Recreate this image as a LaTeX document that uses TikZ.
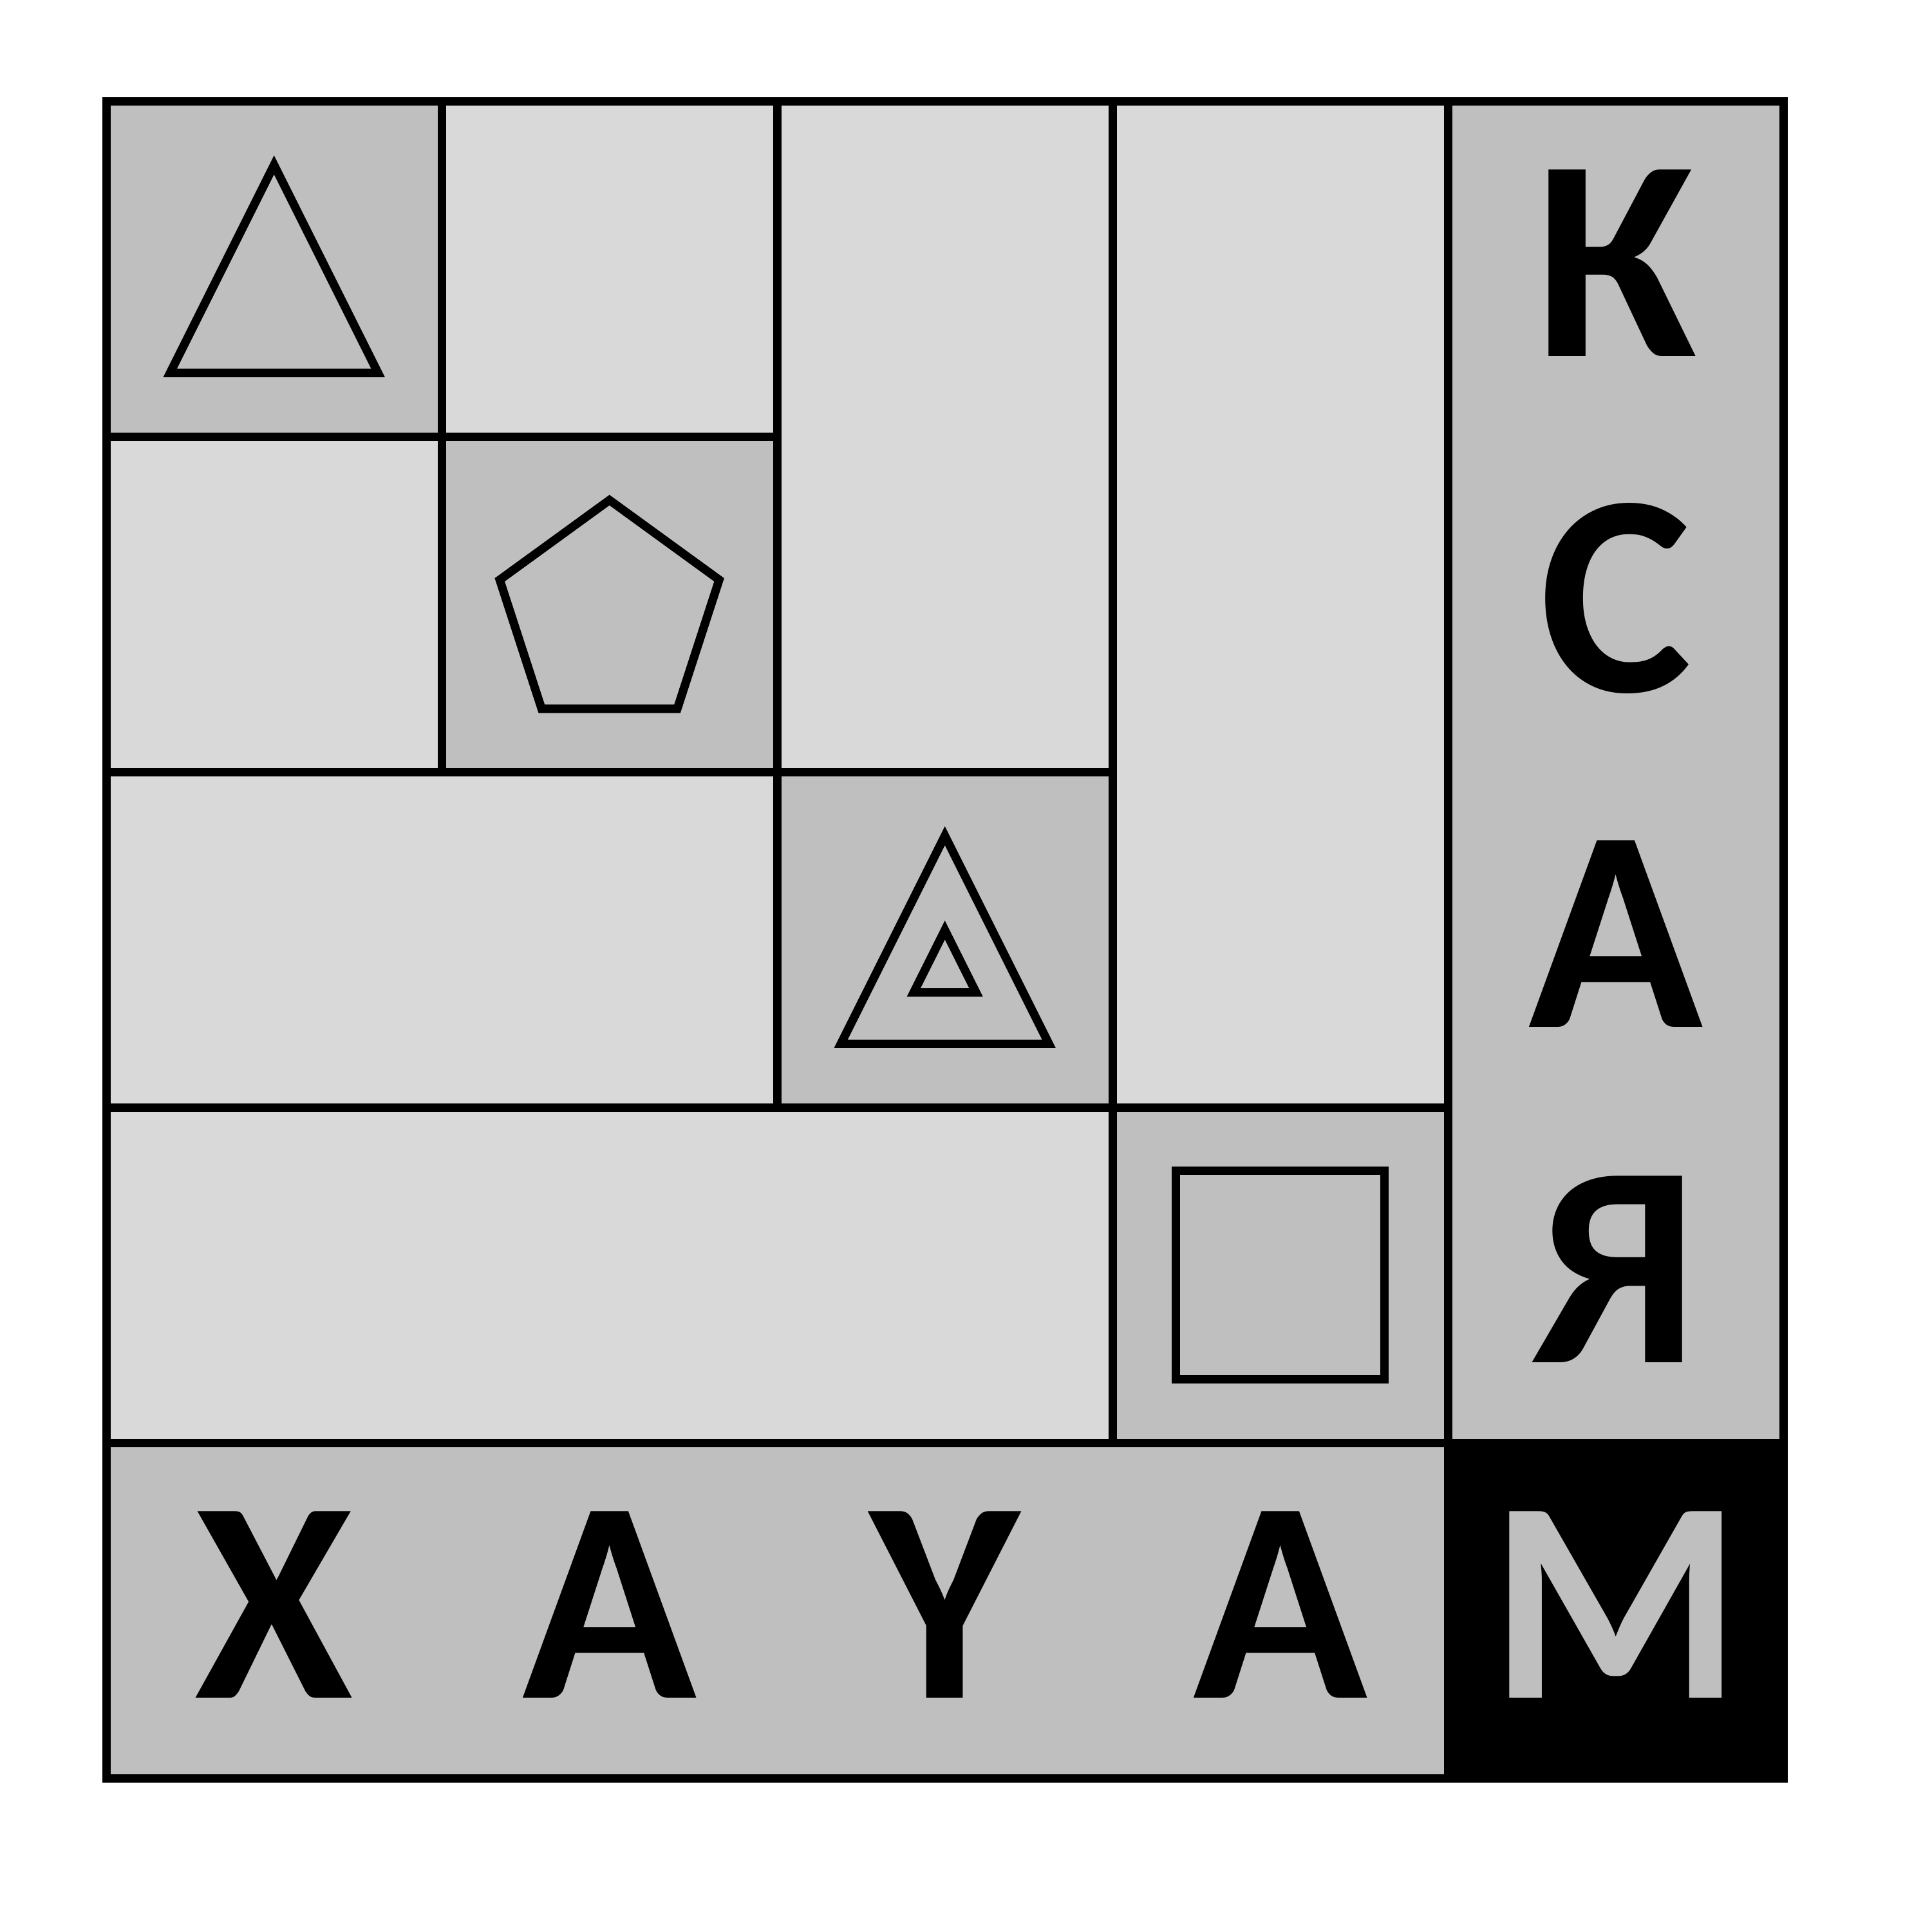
\documentclass[tikz,border=0pt]{standalone}
\usepackage{fontspec}
\setmainfont{Carlito}
\usepackage{xcolor}
\usepackage{tikz}
\usetikzlibrary{calc}
\definecolor{lightcell}{HTML}{D9D9D9}
\definecolor{darkcell}{HTML}{BFBFBF}

\begin{document}
\begin{tikzpicture}[
    x=2.5cm, y=2.5cm,
    line width=1.8pt,
    light/.style={fill=lightcell, draw=black},
    dark/.style={fill=darkcell, draw=black},
    figure/.style={draw=black, line width=1.8pt},
    letter/.style={anchor=base, inner sep=0pt, font=\fontsize{61}{68}\selectfont\bfseries}
]
\useasboundingbox (-0.317,-0.458) rectangle (5.443,5.302);

% Cells
\draw[dark] (0,4) rectangle (1,5);
\draw[light] (1,4) rectangle (2,5);
\draw[light] (2,3) rectangle (3,5);
\draw[light] (3,2) rectangle (4,5);
\draw[dark] (4,1) rectangle (5,5);
\draw[light] (0,3) rectangle (1,4);
\draw[dark] (1,3) rectangle (2,4);
\draw[light] (0,2) rectangle (2,3);
\draw[dark] (2,2) rectangle (3,3);
\draw[light] (0,1) rectangle (3,2);
\draw[dark] (3,1) rectangle (4,2);
\draw[dark] (0,0) rectangle (4,1);
\draw[fill=black] (4,0) rectangle (5,1);

% Figures on the diagonal
\draw[figure, shift={(0.5,4.5)}] (0,0.31) -- (-0.31,-0.31) -- (0.31,-0.31) -- cycle;
\draw[figure, shift={(1.5,3.467)}] (90:0.344) -- (162:0.344) -- (234:0.344) -- (306:0.344) -- (18:0.344) -- cycle;
\draw[figure, shift={(2.5,2.5)}] (0,0.31) -- (-0.31,-0.31) -- (0.31,-0.31) -- cycle;
\draw[figure, shift={(2.5,2.5)}] (0,0.029) -- (-0.093,-0.157) -- (0.093,-0.157) -- cycle;
\draw[figure] (3.189,1.189) rectangle (3.811,1.811);

% Right column
\node[letter] (k) at (4.5,4.24) {К};
\node[letter] (s) at (4.5,3.24) {С};
\node[letter] (a1) at (4.5,2.24) {А};
\node[letter] (ya) at (4.5,1.24) {Я};

% Bottom row
\node[letter] (kh) at (0.5,0.24) {Х};
\node[letter] (a2) at (1.5,0.24) {А};
\node[letter] (u) at (2.5,0.24) {Ү};
\node[letter] (a3) at (3.5,0.24) {А};
\node[letter, text=darkcell] (m) at (4.5,0.24) {М};

\end{tikzpicture}
\end{document}
